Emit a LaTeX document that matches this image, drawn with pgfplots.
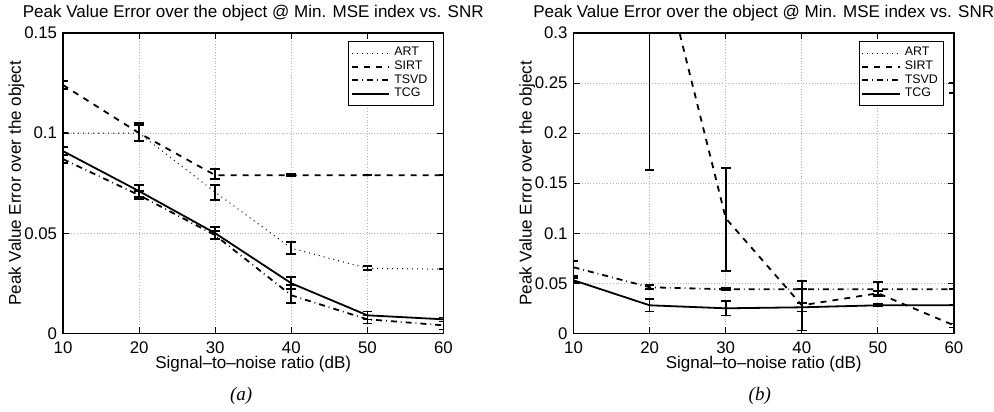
\documentclass[border=0pt]{standalone}
\usepackage{fontspec}
\setmainfont{Liberation Sans}
\newfontfamily\capfont{Liberation Serif}
\usepackage{pgfplots}
\pgfplotsset{compat=1.18}

% columns: snr, value, error plus, error minus
\pgfplotstableread{
x y ep em
10 0.100 0.000 0.000
20 0.100 0.004 0.004
30 0.0705 0.0035 0.004
40 0.0425 0.0030 0.003
50 0.0325 0.0010 0.001
60 0.032 0.000 0.000
}\artA
\pgfplotstableread{
x y ep em
10 0.124 0.002 0.002
20 0.100 0.005 0.004
30 0.079 0.003 0.002
40 0.079 0.0005 0.0005
50 0.079 0.000 0.000
60 0.079 0.000 0.000
}\sirtA
\pgfplotstableread{
x y ep em
10 0.087 0.002 0.002
20 0.069 0.002 0.002
30 0.049 0.002 0.002
40 0.019 0.005 0.004
50 0.007 0.002 0.002
60 0.004 0.002 0.002
}\tsvdA
\pgfplotstableread{
x y ep em
10 0.091 0.002 0.002
20 0.071 0.003 0.003
30 0.050 0.003 0.003
40 0.025 0.003 0.003
50 0.009 0.002 0.002
60 0.007 0.001 0.001
}\tcgA
\pgfplotstableread{
x y ep em
60 0.245 0.005 0.005
}\artB
\pgfplotstableread{
x y ep em
10 0.73 0.05 0.05
20 0.42 0.257 0.257
30 0.115 0.050 0.053
40 0.028 0.024 0.025
50 0.040 0.002 0.002
60 0.008 0.002 0.002
}\sirtB
\pgfplotstableread{
x y ep em
10 0.066 0.006 0.009
20 0.046 0.002 0.002
30 0.044 0.001 0.001
40 0.044 0.000 0.000
50 0.044 0.007 0.007
60 0.044 0.000 0.000
}\tsvdB
\pgfplotstableread{
x y ep em
10 0.053 0.002 0.002
20 0.028 0.006 0.006
30 0.025 0.007 0.007
40 0.026 0.004 0.004
50 0.028 0.001 0.001
60 0.028 0.000 0.000
}\tcgB

\pgfplotsset{
  peak/.style={
    width=190pt, height=150pt, scale only axis,
    xmin=10, xmax=60,
    xtick={10,20,30,40,50,60},
    xticklabels={10,20,30,40,50,60},
    tick align=inside,
    major tick length=3pt,
    grid=major,
    major grid style={densely dotted, gray!60, line width=0.4pt},
    axis line style={line width=0.8pt},
    tick style={black, line width=0.5pt},
    ticklabel style={font=\fontsize{8.4}{9}\selectfont},
    xticklabel style={yshift=-0.5pt},
    yticklabel style={xshift=0.5pt},
    title style={font=\fontsize{8.5}{9}\selectfont, yshift=-3.5pt},
    xlabel style={font=\fontsize{8.5}{9}\selectfont, yshift=5.5pt},
    ylabel style={font=\fontsize{8.5}{9}\selectfont, yshift=-7pt},
    title={Peak Value Error over the object @ Min. MSE index vs. SNR},
    xlabel={Signal--to--noise ratio (dB)},
    ylabel={Peak Value Error over the object},
    legend style={at={(rel axis cs:0.975,0.974)}, anchor=north east,
      font=\fontsize{6.2}{6.2}\selectfont, draw=black, line width=0.5pt,
      inner sep=1pt, row sep=-3pt, cells={anchor=west}},
    legend image post style={xscale=1.1},
    error bars/y dir=both, error bars/y explicit,
    error bars/error bar style={solid, line width=0.8pt, black},
    error bars/error mark options={line width=0.8pt, mark size=2.4pt, rotate=90},
    clip=true,
  },
  artl/.style={black, dotted, line width=0.5pt, mark=none},
  sirtl/.style={black, dashed, line width=0.9pt, mark=none},
  tsvdl/.style={black, dash dot, line width=0.9pt, mark=none},
  tcgl/.style={black, solid, line width=0.9pt, mark=none},
}

\begin{document}
\begin{tikzpicture}
\path[use as bounding box] (-31.5pt,-39pt) rectangle (465pt,166.5pt);
\begin{axis}[peak, ymin=0, ymax=0.15,
    ytick={0,0.05,0.1,0.15}, yticklabels={0,0.05,0.1,0.15}]
\addplot[artl] table[x=x, y=y, y error plus=ep, y error minus=em] {\artA};
\addlegendentry{ART}
\addplot[sirtl] table[x=x, y=y, y error plus=ep, y error minus=em] {\sirtA};
\addlegendentry{SIRT}
\addplot[tsvdl] table[x=x, y=y, y error plus=ep, y error minus=em] {\tsvdA};
\addlegendentry{TSVD}
\addplot[tcgl] table[x=x, y=y, y error plus=ep, y error minus=em] {\tcgA};
\addlegendentry{TCG}
\end{axis}
\begin{axis}[peak, at={(255pt,0)}, ymin=0, ymax=0.3,
    ytick={0,0.05,0.1,0.15,0.2,0.25,0.3},
    yticklabels={0,0.05,0.1,0.15,0.2,0.25,0.3}]
\addplot[artl] table[x=x, y=y, y error plus=ep, y error minus=em] {\artB};
\addlegendentry{ART}
\addplot[sirtl] table[x=x, y=y, y error plus=ep, y error minus=em] {\sirtB};
\addlegendentry{SIRT}
\addplot[tsvdl] table[x=x, y=y, y error plus=ep, y error minus=em] {\tsvdB};
\addlegendentry{TSVD}
\addplot[tcgl] table[x=x, y=y, y error plus=ep, y error minus=em] {\tcgB};
\addlegendentry{TCG}
\end{axis}
\node[font=\capfont\itshape\fontsize{9.5}{10}\selectfont] at (89pt,-31.5pt) {(a)};
\node[font=\capfont\itshape\fontsize{9.5}{10}\selectfont] at (348pt,-31.5pt) {(b)};
\end{tikzpicture}
\end{document}
